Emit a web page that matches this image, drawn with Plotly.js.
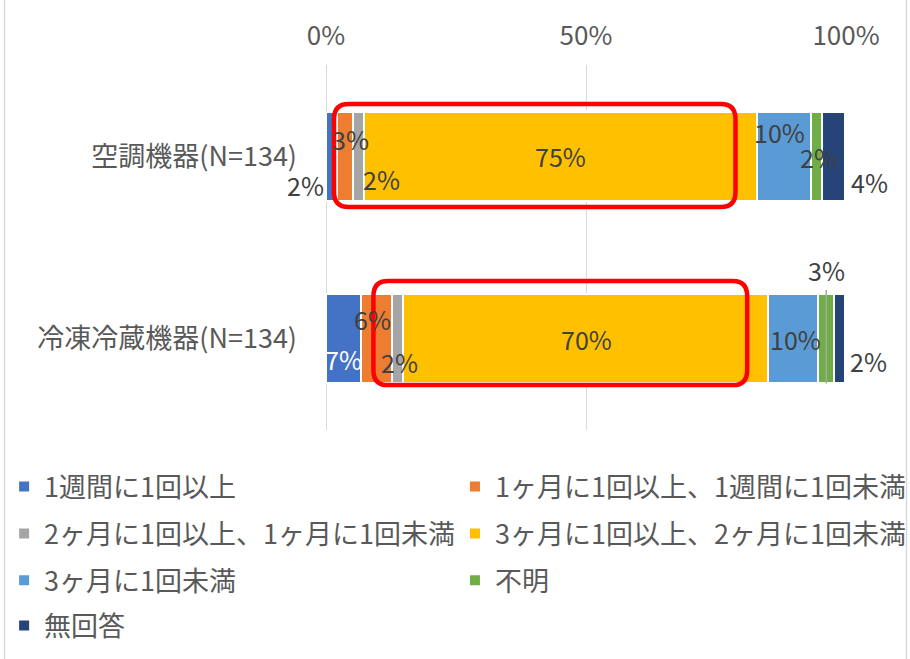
<!DOCTYPE html>
<html>
<head>
<meta charset="utf-8">
<script src="https://cdn.plot.ly/plotly-3.0.1.min.js"></script>
<style>
  html, body { margin: 0; padding: 0; background: #ffffff; }
  #chart { width: 910px; height: 659px; }
</style>
</head>
<body>
<div id="chart"></div>
<script>
// ---- data ----
const categories = ['空調機器(N=134)', '冷凍冷蔵機器(N=134)'];
const seriesNames = [
  '1週間に1回以上',
  '1ヶ月に1回以上、1週間に1回未満',
  '2ヶ月に1回以上、1ヶ月に1回未満',
  '3ヶ月に1回以上、2ヶ月に1回未満',
  '3ヶ月に1回未満',
  '不明',
  '無回答'
];
const weeklyOrMore      = [2.2, 6.7];
const monthlyToWeekly   = [3.0, 6.0];
const bimonthlyToMonthly= [2.2, 2.2];
const quarterlyToBimonth= [75.4, 70.1];
const lessThanQuarterly = [10.4, 9.7];
const unknown           = [2.2, 3.0];
const noAnswer          = [4.4, 2.2];
const seriesValues = [weeklyOrMore, monthlyToWeekly, bimonthlyToMonthly,
                      quarterlyToBimonth, lessThanQuarterly, unknown, noAnswer];
const tickValues = [0, 50, 100];
const tickLabels = ['0%', '50%', '100%'];

// ---- styles ----
const colors = ['#4472C4', '#ED7D31', '#A5A5A5', '#FFC000', '#5B9BD5', '#70AD47', '#264478'];
const FONT = '"Noto Sans CJK JP", "Noto Sans", sans-serif';
const TEXTC = '#595959';
const LABELC = '#404040';
// label offsets in pixels [category][series] -> [xshift, yshift]; null = leader label
const labelOffsets = [
  [[-26, -29], [5, 17], [23, -23], [0, 0], [-4, 24], [2, -1], [36, -26]],
  [[0, -20], [-4, 20], [2, -23], [1, 0], [2, 0], null, [29, -22]]
];
const labelColors = [
  [LABELC, LABELC, LABELC, LABELC, LABELC, LABELC, LABELC],
  ['#ffffff', LABELC, LABELC, LABELC, LABELC, LABELC, LABELC]
];
// legend placement: one legend box per entry (two columns, four rows)
const legendCols = [-0.619, 0.248];
const legendRows = [-0.156, -0.285, -0.413, -0.537];

const traces = seriesValues.map((vals, i) => ({
  type: 'bar',
  orientation: 'h',
  name: seriesNames[i],
  y: categories,
  x: vals,
  marker: { color: colors[i], line: { color: '#ffffff', width: 2 } },
  legend: i === 0 ? 'legend' : 'legend' + (i + 1),
  hoverinfo: 'skip'
}));

const annotations = [];
const barHalf = 0.245;
categories.forEach((cat, j) => {
  let cum = 0;
  seriesValues.forEach((vals, i) => {
    const v = vals[j];
    const mid = cum + v / 2;
    cum += v;
    const off = labelOffsets[j][i];
    const txt = Math.round(v) + '%';
    if (off) {
      annotations.push({
        x: mid, y: j, xref: 'x', yref: 'y', text: txt, showarrow: false,
        xshift: off[0], yshift: off[1],
        font: { family: FONT, size: 25, color: labelColors[j][i] }
      });
    } else {
      annotations.push({
        x: mid, y: j + barHalf, xref: 'x', yref: 'y', text: txt,
        showarrow: true, arrowhead: 0, arrowwidth: 1.5, arrowcolor: '#a6a6a6',
        ax: 0, ay: -113, standoff: 0,
        font: { family: FONT, size: 25, color: LABELC }
      });
    }
  });
});

function roundRect(x0, x1, y0, y1, rx, ry) {
  return `M${x0 + rx},${y0} L${x1 - rx},${y0} Q${x1},${y0} ${x1},${y0 - ry} ` +
         `L${x1},${y1 + ry} Q${x1},${y1} ${x1 - rx},${y1} L${x0 + rx},${y1} ` +
         `Q${x0},${y1} ${x0},${y1 + ry} L${x0},${y0 - ry} Q${x0},${y0} ${x0 + rx},${y0} Z`;
}

const shapes = [
  { type: 'path', xref: 'paper', yref: 'paper',
    path: roundRect(0.0154, 0.7875, 0.893, 0.611, 0.028, 0.041),
    line: { color: '#ff0000', width: 4.5 } },
  { type: 'path', xref: 'paper', yref: 'paper',
    path: roundRect(0.0912, 0.810, 0.408, 0.123, 0.028, 0.041),
    line: { color: '#ff0000', width: 4.5 } },
  { type: 'line', xref: 'paper', yref: 'paper', x0: -0.6183, x1: -0.6183, y0: 1.2, y1: -0.65,
    line: { color: '#d9d9d9', width: 1.5 } },
  { type: 'line', xref: 'paper', yref: 'paper', x0: 1.1163, x1: 1.1163, y0: 1.2, y1: -0.65,
    line: { color: '#d9d9d9', width: 1.5 } }
];

const layout = {
  width: 910, height: 659,
  margin: { l: 326, r: 64, t: 65, b: 229, autoexpand: false },
  paper_bgcolor: '#ffffff', plot_bgcolor: '#ffffff',
  barmode: 'stack', bargap: 0.51,
  font: { family: FONT, color: TEXTC },
  xaxis: {
    side: 'top', range: [0, 100], tickvals: tickValues, ticktext: tickLabels,
    showgrid: true, gridcolor: '#d9d9d9', gridwidth: 1,
    zeroline: true, zerolinecolor: '#d9d9d9', zerolinewidth: 1,
    showline: false, ticks: '', ticklabelstandoff: 14,
    tickfont: { family: FONT, size: 26, color: TEXTC }, fixedrange: true
  },
  yaxis: {
    type: 'category', range: [1.5, -0.5], autorange: false, showgrid: false, zeroline: false,
    showline: false, ticks: '', ticklabelstandoff: 28,
    tickfont: { family: FONT, size: 27, color: TEXTC }, fixedrange: true
  },
  annotations: annotations,
  shapes: shapes,
  showlegend: true
};

seriesNames.forEach((n, i) => {
  const key = i === 0 ? 'legend' : 'legend' + (i + 1);
  layout[key] = {
    orientation: 'h', x: legendCols[i % 2], xanchor: 'left',
    y: legendRows[Math.floor(i / 2)], yanchor: 'middle',
    font: { family: FONT, size: 27, color: TEXTC },
    bgcolor: 'rgba(0,0,0,0)'
  };
});

Plotly.newPlot('chart', traces, layout, { displayModeBar: false, staticPlot: true });
</script>
</body>
</html>
